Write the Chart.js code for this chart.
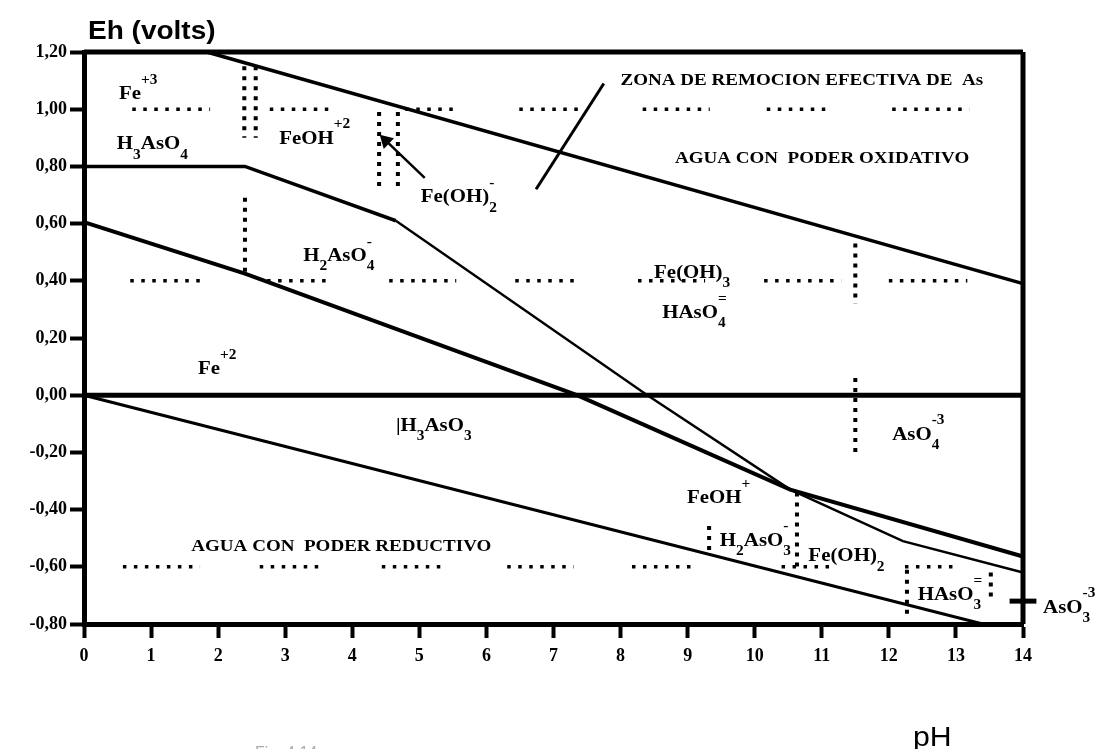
<!DOCTYPE html>
<html>
<head>
<meta charset="utf-8">
<script src="https://cdn.jsdelivr.net/npm/chart.js@4.4.1/dist/chart.umd.min.js"></script>
<style>
  html, body { margin: 0; padding: 0; background: #fff; }
  #wrap { width: 1098px; height: 749px; }
</style>
</head>
<body>
<div id="wrap"><canvas id="pourbaix" width="1098" height="749"></canvas></div>
<script>
// Eh-pH diagram values [pH, Eh]
const frameTop = [[0, 1.2], [14, 1.2]];
const frameRight = [[14, 1.2], [14, -0.8]];
const lineZero = [[0, 0], [14, 0]];
const lineO2 = [[1.83, 1.2], [14, 0.39]];
const lineArsenate = [[0, 0.8], [2.4, 0.8], [4.65, 0.61], [8.4, 0.0], [10.53, -0.33], [12.21, -0.51], [14, -0.62]];
const lineArsenite = [[0, 0.605], [2.4, 0.425], [7.35, 0.0], [10.53, -0.33], [14, -0.564]];
const lineH2 = [[0, 0], [13.4, -0.8]];
const lineZone = [[7.75, 1.09], [6.74, 0.72]];
const lineArrow = [[5.08, 0.76], [4.5, 0.89]];
const asO3Tick = [[13.8, -0.72], [14.2, -0.72]];

// dotted boundaries
const dotRowEh = [1.0, 0.4, -0.6];
const dotRowSegs = [
  [[0.72, 1.88], [2.77, 3.71], [4.79, 5.58], [6.49, 7.47], [8.33, 9.33], [10.18, 11.1], [12.05, 13.2]],
  [[0.69, 1.83], [2.73, 3.67], [4.55, 5.55], [6.43, 7.4], [8.26, 9.26], [10.14, 11.29], [12.0, 13.17]],
  [[0.58, 1.73], [2.62, 3.59], [4.44, 5.41], [6.31, 7.3], [8.17, 9.14], [10.4, 11.17], [12.24, 13.06]]
];
// [pH, Eh from, Eh to]
const dotCols = [
  [2.39, 1.15, 0.9], [2.56, 1.15, 0.9],
  [2.4, 0.69, 0.43],
  [4.4, 0.99, 0.72], [4.68, 0.99, 0.72],
  [11.5, 0.53, 0.32], [11.5, 0.06, -0.2],
  [9.32, -0.457, -0.545],
  [10.63, -0.34, -0.61],
  [12.27, -0.61, -0.775],
  [13.52, -0.62, -0.71]
];

// labels [text, pH, Eh]
const chemLabels = [
  ["Fe^{+3}", 0.52, 1.035],
  ["H_{3}AsO_{4}", 0.49, 0.86],
  ["FeOH^{+2}", 2.91, 0.88],
  ["Fe(OH)_{2}^{-}", 5.02, 0.674],
  ["H_{2}AsO_{4}^{-}", 3.27, 0.47],
  ["Fe(OH)_{3}", 8.5, 0.41],
  ["HAsO_{4}^{=}", 8.62, 0.27],
  ["Fe^{+2}", 1.7, 0.075],
  ["|H_{3}AsO_{3}", 4.65, -0.125],
  ["AsO_{4}^{-3}", 12.05, -0.155],
  ["FeOH^{+}", 8.99, -0.378],
  ["H_{2}AsO_{3}^{-}", 9.48, -0.526],
  ["Fe(OH)_{2}", 10.8, -0.58],
  ["HAsO_{3}^{=}", 12.43, -0.716],
  ["AsO_{3}^{-3}", 14.3, -0.76]
];
const zoneLabels = [
  ["ZONA DE REMOCION EFECTIVA DE  As", 8.0, 1.085],
  ["AGUA CON  PODER OXIDATIVO", 8.81, 0.813],
  ["AGUA CON  PODER REDUCTIVO", 1.6, -0.544]
];

const serif = '"Liberation Serif", "Times New Roman", serif';
const sans = '"Liberation Sans", Arial, sans-serif';
const pts = arr => arr.map(([x, y]) => ({ x, y }));

function solid(arr, width) {
  return { data: pts(arr), borderColor: '#000', borderWidth: width, showLine: true, pointRadius: 0, clip: false };
}

function dotted(points, width, dash) {
  return { data: points, borderColor: '#000', borderWidth: width, borderDash: dash, borderCapStyle: 'butt',
           showLine: true, spanGaps: false, pointRadius: 0, clip: false };
}

const datasets = [
  solid(frameTop, 5),
  solid(frameRight, 5),
  solid(lineZero, 5),
  solid(lineO2, 3.5),
  Object.assign(solid(lineArsenate, 3.5), {
    segment: { borderWidth: c => (c.p0DataIndex < 2 ? 3.5 : 2.4) }
  }),
  solid(lineArsenite, 4),
  solid(lineH2, 3),
  solid(lineZone, 3),
  Object.assign(solid(lineArrow, 2.5), {
    pointRadius: [0, 6], pointStyle: 'triangle', pointRotation: -46, backgroundColor: '#000'
  }),
  solid(asO3Tick, 5)
];

dotRowEh.forEach((eh, i) => {
  const p = [];
  dotRowSegs[i].forEach(([a, b]) => {
    p.push({ x: a, y: eh }, { x: b, y: eh }, { x: b, y: null });
  });
  datasets.push(dotted(p, 3.5, [3.5, 7.5]));
});
dotCols.forEach(([ph, e1, e2]) => {
  datasets.push(dotted([{ x: ph, y: e1 }, { x: ph, y: e2 }], 4, [4, 6]));
});

// scanned lettering is a little wider than the font
function wideText(ctx, t, x, y, sx) {
  ctx.save();
  ctx.translate(x, y);
  ctx.scale(sx, 1);
  ctx.fillText(t, 0, 0);
  ctx.restore();
}

function drawChem(ctx, str, x, y, size) {
  const re = /([_^])\{([^}]*)\}|([^_^]+)/g;
  const small = Math.round(size * 0.72);
  ctx.save();
  ctx.translate(x, y);
  ctx.scale(1.1, 1);
  let m, cx = 0, lastSub = 0;
  while ((m = re.exec(str))) {
    if (m[3]) {
      ctx.font = `bold ${size}px ${serif}`;
      ctx.fillText(m[3], cx, 0);
      cx += ctx.measureText(m[3]).width;
      lastSub = 0;
    } else {
      ctx.font = `bold ${small}px ${serif}`;
      const w = ctx.measureText(m[2]).width;
      if (m[1] === '_') {
        ctx.fillText(m[2], cx, size * 0.5);
        cx += w;
        lastSub = w;
      } else {
        if (lastSub) cx -= lastSub;
        ctx.fillText(m[2], cx, -size * 0.8);
        cx += Math.max(lastSub, w);
        lastSub = 0;
      }
    }
  }
  ctx.restore();
}

const textPlugin = {
  id: 'diagramText',
  afterDatasetsDraw(chart) {
    const { ctx, scales: { x, y }, chartArea } = chart;
    ctx.save();
    ctx.fillStyle = '#000';
    ctx.textBaseline = 'alphabetic';
    ctx.textAlign = 'left';
    chemLabels.forEach(([t, ph, eh]) => drawChem(ctx, t, x.getPixelForValue(ph), y.getPixelForValue(eh), 19));
    ctx.font = `bold 17px ${serif}`;
    zoneLabels.forEach(([t, ph, eh]) => wideText(ctx, t, x.getPixelForValue(ph), y.getPixelForValue(eh), 1.12));

    ctx.font = `bold 25px ${sans}`;
    wideText(ctx, 'Eh (volts)', chartArea.left + 4, chartArea.top - 13, 1.12);
    ctx.font = `27px ${sans}`;
    wideText(ctx, 'pH', chartArea.right - 110, chartArea.bottom + 122, 1.12);
    ctx.fillStyle = '#aaa';
    ctx.font = `16px ${sans}`;
    ctx.fillText('Fig. 4.14', 255, 758);
    ctx.restore();
  }
};

new Chart(document.getElementById('pourbaix'), {
  type: 'scatter',
  data: { datasets },
  options: {
    responsive: false,
    animation: false,
    events: [],
    layout: { padding: { top: 52, right: 75, bottom: 0, left: 0 } },
    plugins: { legend: { display: false }, tooltip: { enabled: false } },
    scales: {
      x: {
        type: 'linear', min: 0, max: 14,
        afterFit: s => { s.height = 125; },
        ticks: { stepSize: 1, color: '#000', padding: 8, font: { family: serif, weight: 'bold', size: 18 } },
        grid: { drawOnChartArea: false, drawTicks: true, tickLength: 14, tickWidth: 4, tickColor: '#000' },
        border: { display: true, width: 5, color: '#000' }
      },
      y: {
        type: 'linear', min: -0.8, max: 1.2,
        afterFit: s => { s.width = 84; },
        ticks: {
          stepSize: 0.2, color: '#000', padding: 3,
          font: { family: serif, weight: 'bold', size: 18 },
          callback: v => (Math.abs(v) < 1e-9 ? 0 : v).toFixed(2).replace('.', ',')
        },
        grid: { drawOnChartArea: false, drawTicks: true, tickLength: 14, tickWidth: 4, tickColor: '#000' },
        border: { display: true, width: 5, color: '#000' }
      }
    }
  },
  plugins: [textPlugin]
});
</script>
</body>
</html>
